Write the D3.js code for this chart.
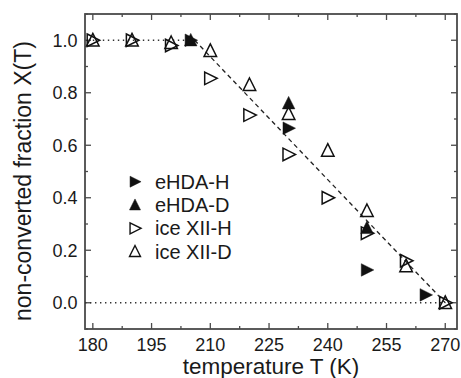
<!DOCTYPE html>
<html><head><meta charset="utf-8">
<script src="https://cdn.jsdelivr.net/npm/d3@7"></script>
<style>body{margin:0;background:#fff}svg{display:block}text{font-family:"Liberation Sans",Arial,sans-serif;fill:#1a1a1a}</style>
</head><body><svg id="c" width="461" height="378"></svg>
<script>
const xTicks = [180,195,210,225,240,255,270];
const yTicks = [0.0,0.2,0.4,0.6,0.8,1.0];
const eHDA_H = [[205,1.0],[230,0.665],[250,0.125],[265,0.03]];
const eHDA_D = [[205,1.0],[230,0.76],[250,0.285]];
const iceXII_H = [[180,1.0],[190,1.0],[200,0.98],[210,0.855],[220,0.715],[230,0.565],[240,0.40],[250,0.265],[260,0.16],[270,0.0]];
const iceXII_D = [[180,1.0],[190,1.0],[200,0.99],[210,0.96],[220,0.83],[230,0.72],[240,0.58],[250,0.35],[260,0.14],[270,0.0]];
const fitLine = [[206,1.0],[270,0.0]];
const topPlateau = [[180,1.0],[205,1.0]];
const zeroLine = [[178,0.0],[270,0.0]];
const legendLabels = ["eHDA-H","eHDA-D","ice XII-H","ice XII-D"];

const svg = d3.select("#c");
const L=85,R=457,T=14,B=329;
const x = d3.scaleLinear().domain([178,273]).range([L,R]);
const y = d3.scaleLinear().domain([-0.1,1.1]).range([B,T]);
const axisCol="#4a4a4a";

const xMinor = d3.range(180,273,7.5);
const yMinor = d3.range(-0.1,1.101,0.1).map(v=>+v.toFixed(2));
const g = svg.append("g");
xMinor.forEach(v=>{
  const major = xTicks.includes(v);
  const len = major?6:3;
  g.append("line").attr("x1",x(v)).attr("x2",x(v)).attr("y1",B).attr("y2",B-len).attr("stroke",axisCol).attr("stroke-width",1.3);
  g.append("line").attr("x1",x(v)).attr("x2",x(v)).attr("y1",T).attr("y2",T+len).attr("stroke",axisCol).attr("stroke-width",1.3);
});
yMinor.forEach(v=>{
  const major = yTicks.some(t=>Math.abs(t-v)<1e-6);
  const len = major?6:3;
  g.append("line").attr("y1",y(v)).attr("y2",y(v)).attr("x1",L).attr("x2",L+len).attr("stroke",axisCol).attr("stroke-width",1.3);
  g.append("line").attr("y1",y(v)).attr("y2",y(v)).attr("x1",R).attr("x2",R-len).attr("stroke",axisCol).attr("stroke-width",1.3);
});
svg.append("rect").attr("x",L).attr("y",T).attr("width",R-L).attr("height",B-T).attr("fill","none").attr("stroke",axisCol).attr("stroke-width",1.8);

xTicks.forEach(v=>svg.append("text").attr("x",x(v)).attr("y",350.5).attr("text-anchor","middle").attr("font-size",18).text(v));
yTicks.forEach(v=>svg.append("text").attr("x",77.5).attr("y",y(v)+6.5).attr("text-anchor","end").attr("font-size",18).text(v.toFixed(1)));

svg.append("text").attr("x",271).attr("y",374).attr("text-anchor","middle").attr("font-size",22.5).text("temperature T (K)");
svg.append("text").attr("transform","translate(31,181) rotate(-90)").attr("text-anchor","middle").attr("font-size",23).text("non-converted fraction X(T)");

const line = d3.line().x(d=>x(d[0])).y(d=>y(d[1]));
svg.append("path").attr("d",line(topPlateau)).attr("fill","none").attr("stroke","#333").attr("stroke-width",1.4).attr("stroke-dasharray","1.4,3.6");
svg.append("path").attr("d",line(zeroLine)).attr("fill","none").attr("stroke","#333").attr("stroke-width",1.4).attr("stroke-dasharray","1.4,3.6");
svg.append("path").attr("d",line(fitLine)).attr("fill","none").attr("stroke","#222").attr("stroke-width",1.3).attr("stroke-dasharray","4.5,3.5");

function triRight(s){return `M${-s*0.45},${-s*0.5}L${s*0.55},0L${-s*0.45},${s*0.5}Z`;}
function triUp(s){return `M0,${-s*0.55}L${s*0.5},${s*0.45}L${-s*0.5},${s*0.45}Z`;}
const S=12.5;
function draw(data, pathFn, filled){
  svg.append("g").selectAll("path").data(data).join("path")
    .attr("transform",d=>`translate(${x(d[0])},${y(d[1])})`)
    .attr("d",pathFn(S))
    .attr("fill",filled?"#111":"none")
    .attr("stroke","#111").attr("stroke-width",filled?0.5:1.5);
}
draw(iceXII_H, triRight, false);
draw(iceXII_D, triUp, false);
draw(eHDA_D, triUp, true);
draw(eHDA_H, triRight, true);

const legendFns=[[triRight,true],[triUp,true],[triRight,false],[triUp,false]];
legendLabels.forEach((lab,i)=>{
  const cy=181.7+i*23.3;
  svg.append("path").attr("transform",`translate(135,${cy})`).attr("d",legendFns[i][0](11))
    .attr("fill",legendFns[i][1]?"#111":"none").attr("stroke","#111").attr("stroke-width",legendFns[i][1]?0.5:1.4);
  svg.append("text").attr("x",155).attr("y",cy+7).attr("font-size",20).text(lab);
});
</script></body></html>
